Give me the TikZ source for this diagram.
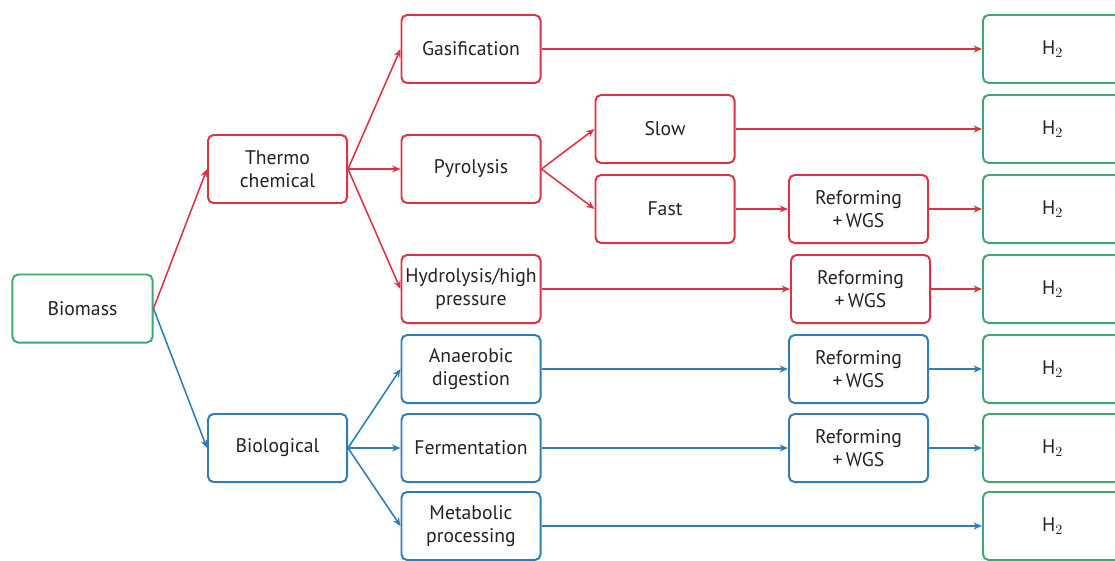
\documentclass[tikz,border=0pt]{standalone}
\usepackage{fontspec}
\setmainfont{PT Sans}
\usetikzlibrary{arrows.meta}
\definecolor{cred}{RGB}{221,50,66}
\definecolor{cblue}{RGB}{45,125,185}
\definecolor{cgreen}{RGB}{62,168,110}
\definecolor{ctext}{RGB}{35,35,35}
\begin{document}
\begin{tikzpicture}[x=0.025cm,y=-0.025cm,
  pbox/.style={draw,rounded corners=4pt,line width=1.4pt,minimum width=3.475cm,minimum height=1.7cm,inner sep=0pt,align=center,text=ctext,font=\fontsize{14}{16}\selectfont,fill=white},
  rbox/.style={pbox,draw=cred},
  bbox/.style={pbox,draw=cblue},
  gbox/.style={pbox,draw=cgreen},
  conn/.style={line width=1.1pt,-{Stealth[length=6pt,width=5pt]}},
  rc/.style={conn,draw=cred},
  bc/.style={conn,draw=cblue}]
\useasboundingbox (0,0) rectangle (1115,560);
\clip (0,0) rectangle (1115,560);
% column 0
\node[gbox,minimum width=3.5cm] (bio) at (82.5,308.5) {Biomass};
% column 1
\node[rbox] (thermo) at (277.5,169) {Thermo\\chemical};
\node[bbox] (biol) at (277.5,448) {Biological};
% column 2
\node[rbox] (gas) at (471,49) {Gasification};
\node[rbox] (pyro) at (471,169) {Pyrolysis};
\node[rbox] (hydro) at (471,289) {Hydrolysis/high\\pressure};
\node[bbox] (anae) at (471,369) {Anaerobic\\digestion};
\node[bbox] (ferm) at (471,448) {Fermentation};
\node[bbox] (meta) at (471,526) {Metabolic\\processing};
% column 3
\node[rbox] (slow) at (665,129) {Slow};
\node[rbox] (fast) at (665,209) {Fast};
% column 4
\node[rbox] (ref1) at (858.5,209) {Reforming\\+\,WGS};
\node[rbox] (ref2) at (860.5,289) {Reforming\\+\,WGS};
\node[bbox] (ref3) at (858.5,369) {Reforming\\+\,WGS};
\node[bbox] (ref4) at (858.5,448) {Reforming\\+\,WGS};
% column 5
\node[gbox] (h1) at (1052.5,49) {H$_2$};
\node[gbox] (h2) at (1052.5,129) {H$_2$};
\node[gbox] (h3) at (1052.5,209) {H$_2$};
\node[gbox] (h4) at (1052.5,289) {H$_2$};
\node[gbox] (h5) at (1052.5,369) {H$_2$};
\node[gbox] (h6) at (1052.5,448) {H$_2$};
\node[gbox] (h7) at (1052.5,526) {H$_2$};
% connectors
\draw[rc] (bio.east) -- (thermo.west);
\draw[bc] (bio.east) -- (biol.west);
\draw[rc] (thermo.east) -- (gas.west);
\draw[rc] (thermo.east) -- (pyro.west);
\draw[rc] (thermo.east) -- (hydro.west);
\draw[rc] (pyro.east) -- (slow.west);
\draw[rc] (pyro.east) -- (fast.west);
\draw[rc] (gas.east) -- (h1.west);
\draw[rc] (slow.east) -- (h2.west);
\draw[rc] (fast.east) -- (ref1.west);
\draw[rc] (ref1.east) -- (h3.west);
\draw[rc,line width=1.7pt] (hydro.east) -- (ref2.west);
\draw[rc] (ref2.east) -- (h4.west);
\draw[bc] (biol.east) -- (anae.west);
\draw[bc] (biol.east) -- (ferm.west);
\draw[bc] (biol.east) -- (meta.west);
\draw[bc] (anae.east) -- (ref3.west);
\draw[bc] (ref3.east) -- (h5.west);
\draw[bc] (ferm.east) -- (ref4.west);
\draw[bc] (ref4.east) -- (h6.west);
\draw[bc] (meta.east) -- (h7.west);
\end{tikzpicture}
\end{document}
